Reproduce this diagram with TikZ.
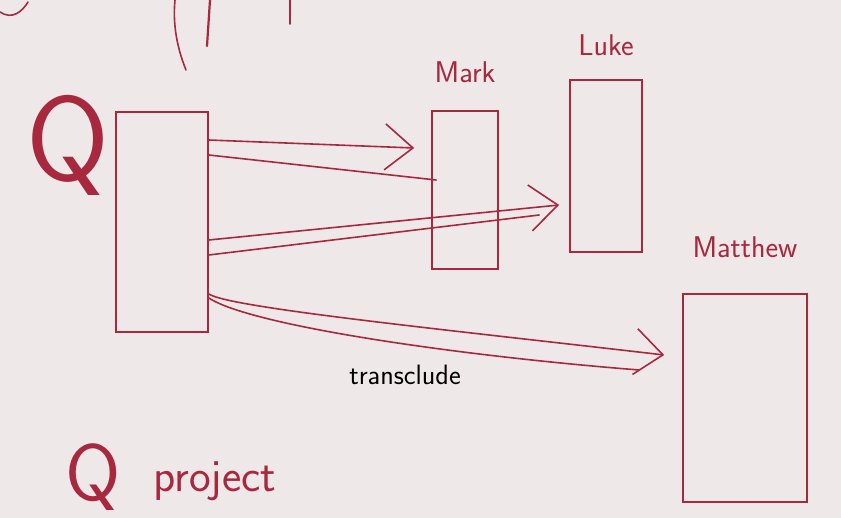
\documentclass[tikz,border=0pt]{standalone}
\usepackage{tikz}
\usetikzlibrary{positioning, arrows.meta}
\definecolor{pen}{RGB}{168,40,62}
\definecolor{paper}{RGB}{238,232,232}

\begin{document}
\begin{tikzpicture}[x=1pt, y=-1pt,
    pen/.style = {draw=pen, line width=1.6pt, line cap=round},
    box/.style = {pen, rectangle, inner sep=0pt},
    lbl/.style = {text=pen, font=\sffamily\fontsize{30}{30}\selectfont},
    barb/.style = {-{Straight Barb[length=28pt, width=46pt, line width=1.6pt]}}]
    \useasboundingbox (0,0) rectangle (841,518);
    \clip (0,0) rectangle (841,518);
    \fill[paper] (0,0) rectangle (841,518);
    % cut off writing at the top
    \draw[pen] (0,12) .. controls (12,20) and (22,12) .. (28,2);
    \draw[pen] (175,0) .. controls (172,30) and (180,55) .. (186,70);
    \draw[pen, line width=2.2pt] (210,0) -- (207,46);
    \draw[pen] (290,0) -- (290,24);
    % boxes
    \node[box, minimum width=92pt, minimum height=220pt] (q) at (162,222) {};
    \node[box, minimum width=66pt, minimum height=158pt] (mark) at (465,190) {};
    \node[box, minimum width=72pt, minimum height=172pt] (luke) at (606,166) {};
    \node[box, minimum width=124pt, minimum height=208pt] (matthew) at (745,398) {};
    % labels
    \node[lbl, above=24pt of mark] (marklbl) {Mark};
    \node[lbl, above=20pt of luke] (lukelbl) {Luke};
    \node[lbl, above=32pt of matthew] (matthewlbl) {Matthew};
    \node[lbl, font=\sffamily\fontsize{120}{120}\selectfont] (qlbl) at (68,145) {Q};
    \node[lbl, font=\sffamily\fontsize{80}{80}\selectfont, anchor=north west] (qproj) at (62,440) {Q};
    \node[lbl, font=\sffamily\fontsize{46}{46}\selectfont, anchor=north west] (proj) at (150,458) {project};
    \node[font=\sffamily\fontsize{28}{28}\selectfont] (transcl) at (405,375) {transclude};
    % arrows
    \draw[pen, barb] ([yshift=82pt]q.east) -- ([xshift=-17pt, yshift=42pt]mark.west);
    \draw[pen] ([yshift=67pt]q.east) -- ([xshift=5pt, yshift=10pt]mark.west);
    \draw[pen, barb] ([yshift=-18pt]q.east) -- ([xshift=-10pt, yshift=-39pt]luke.west);
    \draw[pen] ([yshift=-33pt]q.east) -- ([xshift=-30pt, yshift=-49pt]luke.west);
    \draw[pen, barb] ([yshift=-72pt]q.east) .. controls (230,308) and (450,330) .. ([xshift=-18pt, yshift=43pt]matthew.west);
    \draw[pen] ([yshift=-76pt]q.east) .. controls (250,325) and (450,355) .. ([xshift=-43pt, yshift=28pt]matthew.west);
\end{tikzpicture}
\end{document}
